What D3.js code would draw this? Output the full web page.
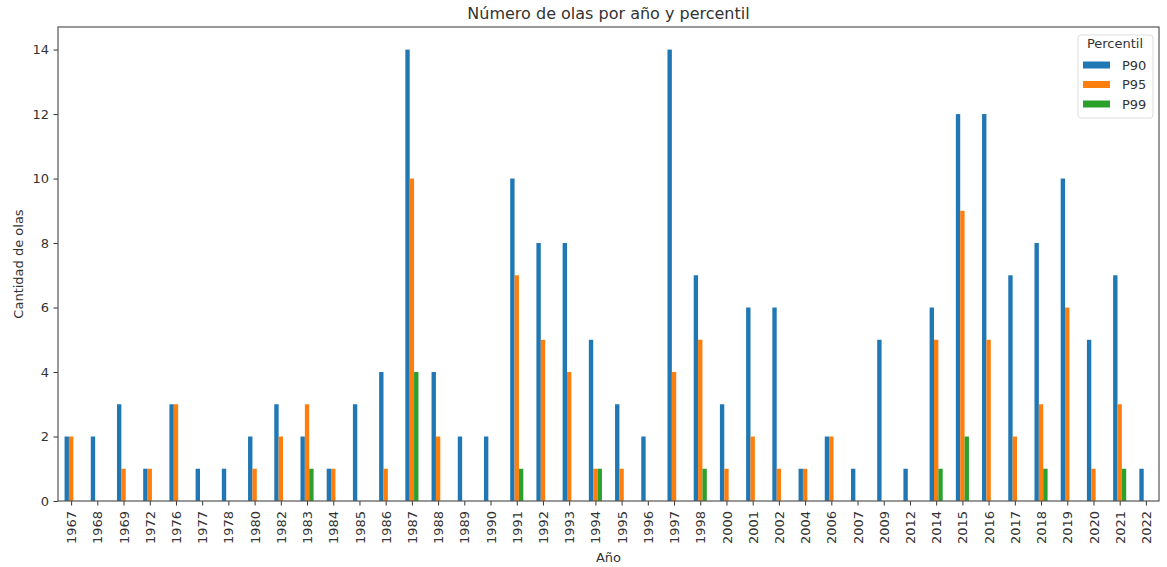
<!DOCTYPE html>
<html><head><meta charset="utf-8">
<script src="https://cdn.jsdelivr.net/npm/d3@7"></script>
<style>body{margin:0;background:#fff}text{font-family:"DejaVu Sans",sans-serif;fill:#333}</style>
</head><body><svg id="c" width="1167" height="567"></svg>
<script>
const years = ["1967","1968","1969","1972","1976","1977","1978","1980","1982","1983","1984","1985","1986","1987","1988","1989","1990","1991","1992","1993","1994","1995","1996","1997","1998","2000","2001","2002","2004","2006","2007","2009","2012","2014","2015","2016","2017","2018","2019","2020","2021","2022"];
const p90 = [2,2,3,1,3,1,1,2,3,2,1,3,4,14,4,2,2,10,8,8,5,3,2,14,7,3,6,6,1,2,1,5,1,6,12,12,7,8,10,5,7,1];
const p95 = [2,0,1,1,3,0,0,1,2,3,1,0,1,10,2,0,0,7,5,4,1,1,0,4,5,1,2,1,1,2,0,0,0,5,9,5,2,3,6,1,3,0];
const p99 = [0,0,0,0,0,0,0,0,0,1,0,0,0,4,0,0,0,1,0,0,1,0,0,0,1,0,0,0,0,0,0,0,0,1,2,0,0,1,0,0,1,0];
const seriesNames = ["P90","P95","P99"];
const colors = ["#1f77b4","#ff7f0e","#2ca02c"];
const yTicks = [0,2,4,6,8,10,12,14];
const series = [p90,p95,p99];

const svg = d3.select("#c");
const L=58, R=1159, T=27, B=501;
const x = d3.scaleLinear().domain([-0.5, years.length-0.5]).range([L,R]);
const y = d3.scaleLinear().domain([0,14.7]).range([B,T]);
const bw = 0.5/3;

series.forEach((vals,si)=>{
  svg.append("g").selectAll("rect").data(vals).join("rect")
    .attr("x",(d,i)=>x(i-0.25+si*bw))
    .attr("width",x(bw)-x(0))
    .attr("y",d=>y(d))
    .attr("height",d=>y(0)-y(d))
    .attr("fill",colors[si]);
});

const ya = svg.append("g").attr("transform",`translate(${L},0)`)
  .call(d3.axisLeft(y).tickValues(yTicks).tickSize(4.5).tickPadding(4.5).tickFormat(d3.format("d")));
ya.selectAll("text").style("font-size","13px").attr("fill","#333");
ya.select(".domain").remove();
ya.selectAll("line").attr("stroke","#333");

const xa = svg.append("g").attr("transform",`translate(0,${B})`)
  .call(d3.axisBottom(x).tickValues(d3.range(years.length)).tickFormat(i=>years[i]).tickSize(4.5).tickPadding(4.5));
xa.select(".domain").remove();
xa.selectAll("line").attr("stroke","#333");
xa.selectAll("text").style("font-size","13px").attr("fill","#333")
  .attr("transform","rotate(-90)").attr("text-anchor","end").attr("dy","0.35em").attr("x",-10).attr("y",0);

svg.append("rect").attr("x",L).attr("y",T).attr("width",R-L).attr("height",B-T)
  .attr("fill","none").attr("stroke","#555").attr("stroke-width",1.2);

svg.append("text").attr("x",(L+R)/2).attr("y",19).attr("text-anchor","middle")
  .style("font-size","16px").text("Número de olas por año y percentil");
svg.append("text").attr("x",(L+R)/2).attr("y",562).attr("text-anchor","middle")
  .style("font-size","13px").text("Año");
svg.append("text").attr("transform",`translate(23,${(T+B)/2}) rotate(-90)`).attr("text-anchor","middle")
  .style("font-size","13px").text("Cantidad de olas");

const lg = svg.append("g");
lg.append("rect").attr("x",1078).attr("y",35).attr("width",75).attr("height",83).attr("rx",3)
  .attr("fill","#fff").attr("fill-opacity",0.8).attr("stroke","#ddd");
lg.append("text").attr("x",1115).attr("y",48).attr("text-anchor","middle").style("font-size","13px").text("Percentil");
seriesNames.forEach((n,i)=>{
  const yy = 65 + i*19.5;
  lg.append("rect").attr("x",1083).attr("y",yy-3.5).attr("width",27).attr("height",7).attr("fill",colors[i]);
  lg.append("text").attr("x",1122).attr("y",yy+4.5).style("font-size","13px").text(n);
});
</script></body></html>
